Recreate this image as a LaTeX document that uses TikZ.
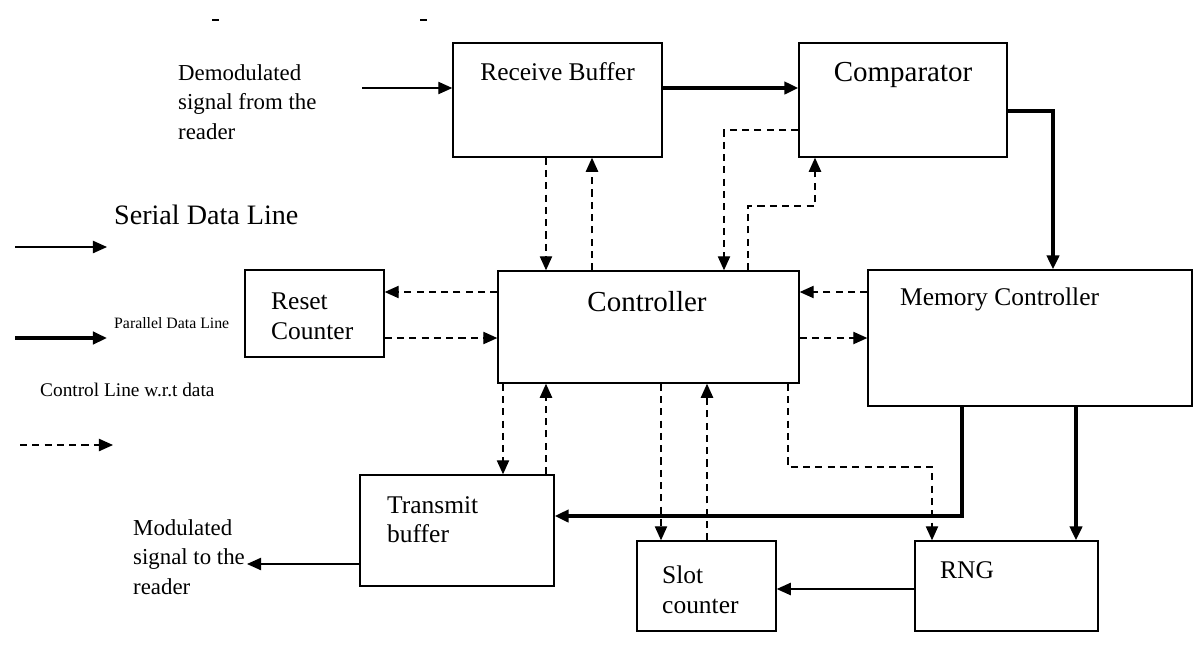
\documentclass[tikz,border=0pt]{standalone}
\usepackage{fontspec}
\setmainfont{Liberation Serif}
\usetikzlibrary{arrows.meta}
\tikzset{
  blk/.style={draw,line width=0.8pt,rectangle,inner sep=0pt},
  txt/.style={font=\fontsize{14.5}{17}\selectfont,align=left},
  ser/.style={line width=0.8pt,-{Triangle[length=8pt,width=7pt]}},
  par/.style={line width=2.3pt,-{Triangle[length=8pt,width=7pt]}},
  ctl/.style={line width=0.8pt,dash pattern=on 4pt off 3pt,-{Triangle[length=8pt,width=7pt]}},
}
\begin{document}
\begin{tikzpicture}[x=0.02cm,y=-0.02cm]
    \useasboundingbox (0,0) rectangle (1201,647);
    % blocks
    \node[blk,minimum width=4.18cm,minimum height=2.28cm] (RB) at (557.5,100) {};
    \node[blk,minimum width=4.16cm,minimum height=2.28cm] (CMP) at (903,100) {};
    \node[blk,minimum width=6.02cm,minimum height=2.24cm] (CTL) at (648.5,327) {};
    \node[blk,minimum width=2.78cm,minimum height=1.74cm] (RC) at (314.5,313.5) {};
    \node[blk,minimum width=6.48cm,minimum height=2.72cm] (MC) at (1030,338) {};
    \node[blk,minimum width=3.88cm,minimum height=2.22cm] (TB) at (457,530.5) {};
    \node[blk,minimum width=2.78cm,minimum height=1.8cm] (SC) at (706.5,586) {};
    \node[blk,minimum width=3.66cm,minimum height=1.8cm] (RNG) at (1006.5,586) {};
    % block texts
    \node[txt] (RB-t) at (557.5,72) {Receive Buffer};
    \node[txt,font=\fontsize{16.5}{19}\selectfont] (CMP-t) at (903,75) {Comparator};
    \node[txt,font=\fontsize{16.5}{19}\selectfont] (CTL-t) at (647,302) {Controller};
    \node[txt,anchor=north west] (RC-t) at (265,287) {Reset\\Counter};
    \node[txt,anchor=west] (MC-t) at (894,299) {Memory Controller};
    \node[txt,anchor=north west] (TB-t) at (381,490) {Transmit\\buffer};
    \node[txt,anchor=north west] (SC-t) at (656,560) {Slot\\counter};
    \node[txt,anchor=west] (RNG-t) at (934,570) {RNG};
    % outer texts
    \node[anchor=north west,align=left,font=\fontsize{13}{17}\selectfont] (DEM) at (172,58) {Demodulated\\signal from the\\reader};
    \node[anchor=north west,align=left,font=\fontsize{13}{17}\selectfont] (MOD) at (127,513) {Modulated\\signal to the\\reader};
    \coordinate (DIN) at (362,88);
    \coordinate (DOUT) at (247,564);
    \draw[line width=0.8pt] (212,20) -- (219,20) (420,20) -- (427,20);
    % legend
    \node[anchor=west,font=\fontsize{16}{18}\selectfont] (L-1) at (108,215) {Serial Data Line};
    \node[anchor=west,font=\fontsize{9}{10}\selectfont] (L-2) at (108,323) {Parallel Data Line};
    \node[anchor=west,font=\fontsize{11}{12}\selectfont] (L-3) at (34,390) {Control Line w.r.t data};
    \coordinate (A-1) at (15,247); \coordinate (B-1) at (107,247);
    \coordinate (A-2) at (15,338); \coordinate (B-2) at (107,338);
    \coordinate (A-3) at (20,445); \coordinate (B-3) at (113,445);
    \draw[ser] (A-1) -- (B-1);
    \draw[par] (A-2) -- (B-2);
    \draw[ctl] (A-3) -- (B-3);
    % data lines
    \draw[ser] (DIN) -- (DIN -| RB.west);
    \draw[par] (RB.east |- 0,88) -- (CMP.west |- 0,88);
    \draw[par] (CMP.east |- 0,111) -| (1053,0 |- MC.north);
    \draw[par] (962,0 |- MC.south) |- (TB.east |- 0,516);
    \draw[par] (1076,0 |- MC.south) -- (1076,0 |- RNG.north);
    \draw[ser] (RNG.west |- 0,589) -- (SC.east |- 0,589);
    \draw[ser] (TB.west |- 0,564) -- (DOUT);
    % control lines
    \draw[ctl] (546,0 |- RB.south) -- (546,0 |- CTL.north);
    \draw[ctl] (592,0 |- CTL.north) -- (592,0 |- RB.south);
    \draw[ctl] (CMP.west |- 0,130) -| (724,0 |- CTL.north);
    \draw[ctl] (748,0 |- CTL.north) |- (815,206) -- (815,0 |- CMP.south);
    \draw[ctl] (CTL.west |- 0,292) -- (RC.east |- 0,292);
    \draw[ctl] (RC.east |- 0,338) -- (CTL.west |- 0,338);
    \draw[ctl] (MC.west |- 0,292) -- (CTL.east |- 0,292);
    \draw[ctl] (CTL.east |- 0,338) -- (MC.west |- 0,338);
    \draw[ctl] (503,0 |- CTL.south) -- (503,0 |- TB.north);
    \draw[ctl] (546,0 |- TB.north) -- (546,0 |- CTL.south);
    \draw[ctl] (661,0 |- CTL.south) -- (661,0 |- SC.north);
    \draw[ctl] (707,0 |- SC.north) -- (707,0 |- CTL.south);
    \draw[ctl] (788,0 |- CTL.south) |- (932,467) -- (932,0 |- RNG.north);
\end{tikzpicture}
\end{document}
